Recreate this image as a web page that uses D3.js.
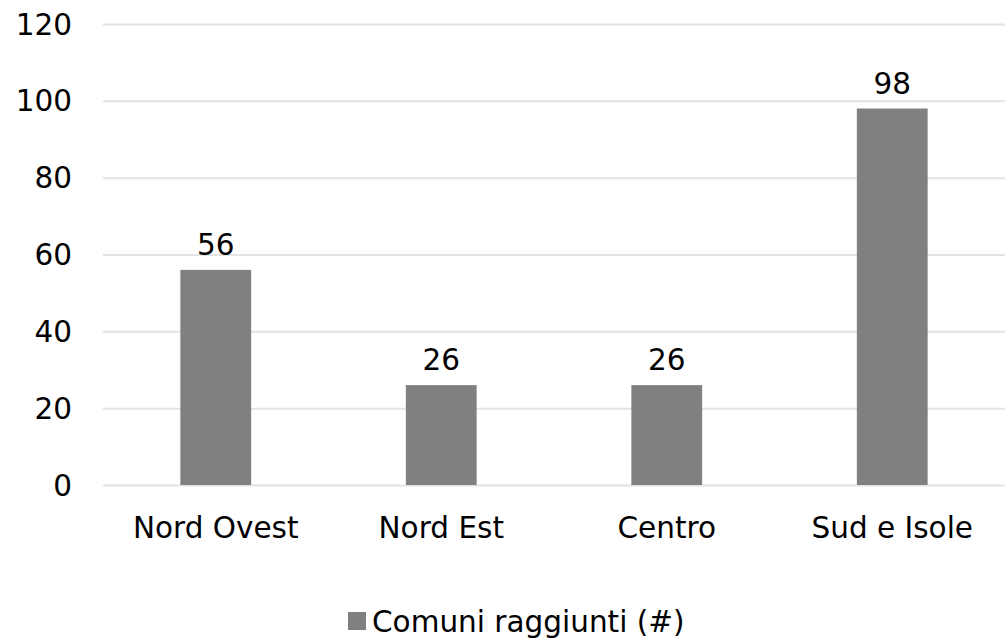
<!DOCTYPE html>
<html>
<head>
<meta charset="utf-8">
<script src="https://cdn.jsdelivr.net/npm/d3@7"></script>
<style>
  body { margin: 0; background: #fff; }
  text { font-family: "DejaVu Sans", sans-serif; fill: #000; }
</style>
</head>
<body>
<div id="chart"></div>
<script>
// chart data
var regions = ["Nord Ovest", "Nord Est", "Centro", "Sud e Isole"];
var comuni = [56, 26, 26, 98];
var yTicks = [0, 20, 40, 60, 80, 100, 120];
var seriesName = "Comuni raggiunti (#)";

var svgWidth = 1005;
var svgHeight = 638;
var fontSize = "29.5px";

var margin = { top: 24, right: 0, bottom: 153, left: 103 };
var width = svgWidth - margin.left - margin.right;
var height = svgHeight - margin.top - margin.bottom;

var svg = d3.select("#chart")
  .append("svg")
  .attr("width", svgWidth)
  .attr("height", svgHeight);

var chartGroup = svg.append("g")
  .attr("transform", `translate(${margin.left}, ${margin.top})`);

var xScale = d3.scaleBand()
  .domain(regions)
  .range([0, width])
  .paddingInner(0.686)
  .paddingOuter(0.343);

var yScale = d3.scaleLinear()
  .domain([0, 120])
  .range([height, 0]);

// gridlines
chartGroup.selectAll(".grid")
  .data(yTicks)
  .enter()
  .append("line")
  .attr("x1", 0)
  .attr("x2", width)
  .attr("y1", d => yScale(d) + 0.5)
  .attr("y2", d => yScale(d) + 0.5)
  .attr("stroke", "#e3e3e3")
  .attr("stroke-width", 2);

// y tick labels
chartGroup.selectAll(".ytick")
  .data(yTicks)
  .enter()
  .append("text")
  .attr("x", -31)
  .attr("y", d => yScale(d))
  .attr("dy", "0.36em")
  .attr("text-anchor", "end")
  .style("font-size", fontSize)
  .text(d => d);

// bars
chartGroup.selectAll("rect.bar")
  .data(comuni)
  .enter()
  .append("rect")
  .attr("class", "bar")
  .attr("x", (d, i) => xScale(regions[i]))
  .attr("y", d => yScale(d))
  .attr("width", xScale.bandwidth())
  .attr("height", d => height - yScale(d))
  .attr("fill", "#808080");

// value labels
chartGroup.selectAll(".vlabel")
  .data(comuni)
  .enter()
  .append("text")
  .attr("x", (d, i) => xScale(regions[i]) + xScale.bandwidth() / 2)
  .attr("y", d => yScale(d) - 15)
  .attr("text-anchor", "middle")
  .style("font-size", fontSize)
  .text(d => d);

// x labels
chartGroup.selectAll(".xlabel")
  .data(regions)
  .enter()
  .append("text")
  .attr("x", d => xScale(d) + xScale.bandwidth() / 2)
  .attr("y", height + 53)
  .attr("text-anchor", "middle")
  .style("font-size", fontSize)
  .text(d => d);

// legend
var legend = svg.append("g")
  .attr("transform", "translate(348, 612)");

legend.append("rect")
  .attr("width", 18)
  .attr("height", 18)
  .attr("fill", "#808080");

legend.append("text")
  .attr("x", 24)
  .attr("y", 9)
  .attr("dy", "0.36em")
  .style("font-size", fontSize)
  .text(seriesName);
</script>
</body>
</html>
